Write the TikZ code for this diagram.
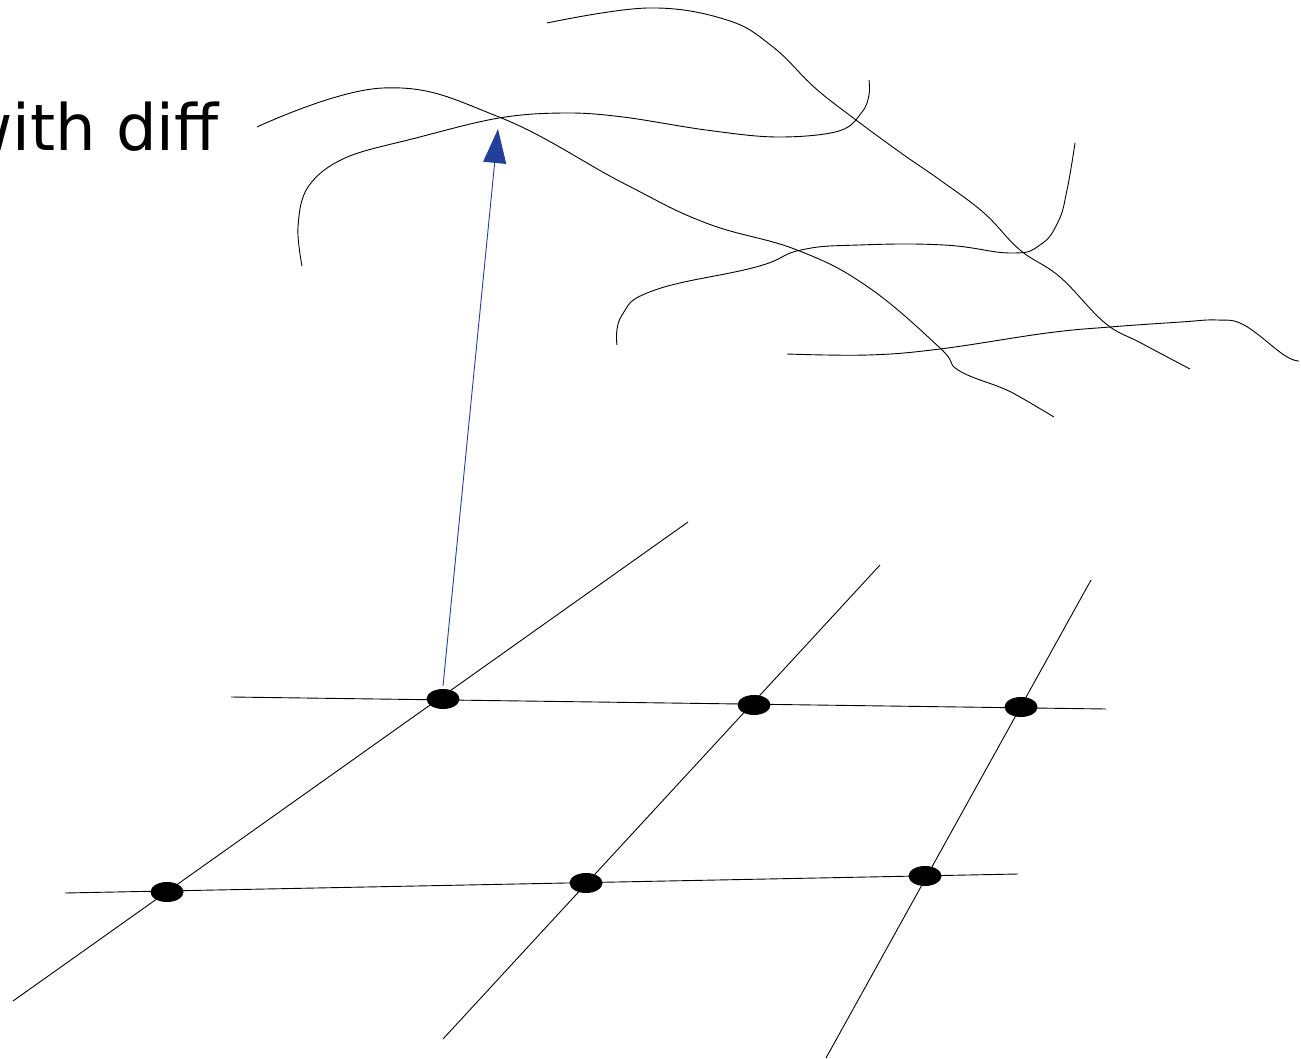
\documentclass[tikz,border=0pt]{standalone}
\usepackage{fontspec}
\setmainfont{DejaVu Sans}
\usetikzlibrary{shapes.geometric,arrows.meta}
\definecolor{arrowblue}{RGB}{34,64,154}
\begin{document}
\begin{tikzpicture}[x=1pt,y=-1pt,
  dot/.style={ellipse,fill=black,draw=none,minimum width=33pt,minimum height=20pt,inner sep=0pt},
  gridline/.style={black,line width=0.9pt},
  curve/.style={black,line width=0.9pt},
  vec/.style={arrowblue,line width=0.9pt,-{Triangle[length=34pt,width=23pt]}},
  lbl/.style={anchor=base east,inner sep=0pt,font=\fontsize{64}{72}\selectfont}]
\useasboundingbox (0,0) rectangle (1301,1059);
\clip (0,0) rectangle (1301,1059);
\fill[white] (0,0) rectangle (1301,1059);
% label
\node[lbl] (title) at (219,151) {with diff};
% grid end points
\coordinate (t1) at (231,697);
\coordinate (t2) at (1106,709);
\coordinate (b1) at (65,893);
\coordinate (b2) at (1018,874);
\coordinate (d1a) at (688,522);
\coordinate (d1b) at (13,1001);
\coordinate (d2a) at (880,565);
\coordinate (d2b) at (443,1039);
\coordinate (d3a) at (1091,580);
\coordinate (d3b) at (826,1058);
\draw[gridline] (t1) -- (t2);
\draw[gridline] (b1) -- (b2);
\draw[gridline] (d1a) -- (d1b);
\draw[gridline] (d2a) -- (d2b);
\draw[gridline] (d3a) -- (d3b);
% dots
\node[dot] (A) at (443,699) {};
\node[dot] (B) at (754,705) {};
\node[dot] (C) at (1021,707) {};
\node[dot] (D) at (167,892) {};
\node[dot] (E) at (586,883) {};
\node[dot] (F) at (925,876) {};
% arrow
\coordinate (tip) at (498,129);
\draw[vec] ([yshift=3pt]A.north) -- (tip);
% curves
\draw[curve] plot[smooth,tension=0.7] coordinates {(257,127) (383,88) (499,117) (623,183) (706,223) (797,250) (868,287) (940,348) (958,370) (1002,388) (1020,397) (1054,417)};
\draw[curve] plot[smooth,tension=0.6] coordinates {(302,266) (298,227) (308,187) (345,158) (416,138) (499,118) (565,113) (623,117) (706,130) (777,137) (839,131) (862,112) (869,95) (869,80)};
\draw[curve] plot[smooth,tension=0.65] coordinates {(547,23) (648,8) (727,20) (773,47) (814,87) (852,117) (901,153) (940,180) (984,213) (1020,250) (1060,277) (1105,323) (1141,343) (1190,369)};
\draw[curve] plot[smooth,tension=0.75] coordinates {(617,345) (622,315) (655,290) (756,267) (801,250) (859,245) (944,245) (1011,253) (1040,245) (1058,222) (1067,190) (1075,143)};
\draw[curve] plot[smooth,tension=0.65] coordinates {(787,354) (868,355) (940,349) (1047,333) (1110,327) (1181,322) (1217,320) (1244,325) (1284,355) (1299,361)};
\end{tikzpicture}
\end{document}
